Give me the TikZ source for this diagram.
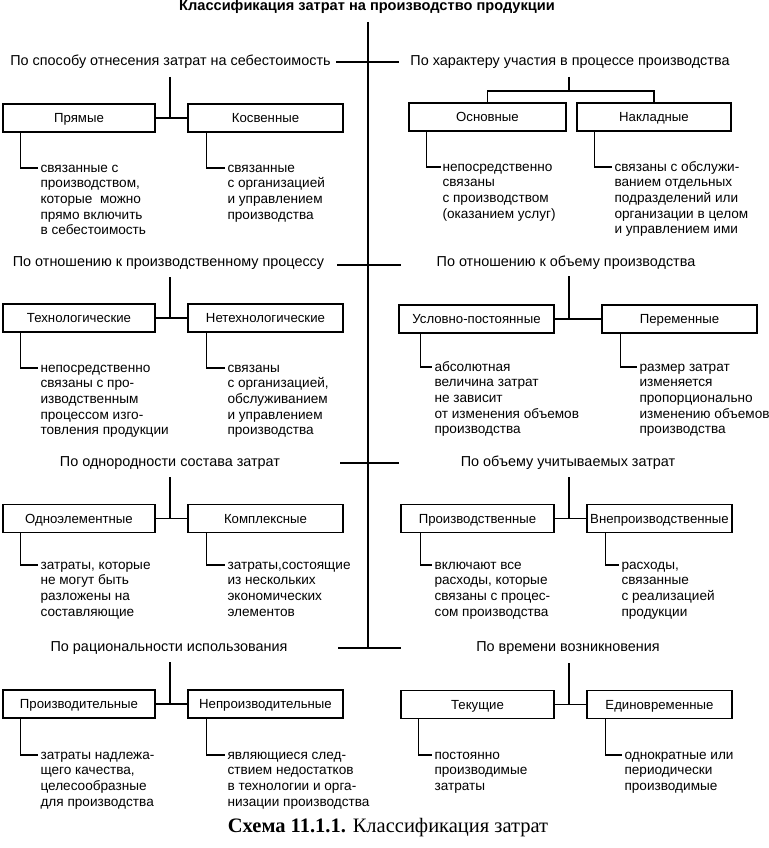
\documentclass[tikz,border=0pt]{standalone}
\usepackage{fontspec}
\setmainfont{Liberation Sans}
\newfontfamily\capfont{Liberation Serif}
\begin{document}
\begin{tikzpicture}[x=1pt,y=-1pt,line width=1.1pt,
  box/.style={draw,line width=1.3pt,minimum height=28pt,inner sep=0pt,text height=9.6pt,text depth=0.6pt,font=\fontsize{13.2}{15.7}\selectfont},
  head/.style={inner sep=0pt,text height=10.4pt,text depth=3pt,font=\fontsize{14.4}{17}\selectfont},
  desc/.style={inner sep=0pt,anchor=north west,align=left,font=\fontsize{13.6}{15.7}\selectfont}]
\useasboundingbox (0,0) rectangle (768,848);
\fill[white] (0,0) rectangle (768,848);
% title and spine
\node[inner sep=0pt,font=\fontsize{14.6}{16}\selectfont\bfseries] (title) at (367,6.5) {Классификация затрат на производство продукции};
\coordinate (ctop) at (368,22);
\coordinate (cbot) at (368,648);
\draw (ctop) -- (cbot);
% ---------------- Section 1 ----------------
\node[head] (h1l) at (170.5,62) {По способу отнесения затрат на себестоимость};
\node[head] (h1r) at (570,62) {По характеру участия в процессе производства};
\coordinate (s1a) at (336,62); \coordinate (s1b) at (399,62);
\draw (s1a) -- (s1b);
\node[box,minimum width=152pt] (l1a) at (79,118) {Прямые};
\node[box,minimum width=155pt] (l1b) at (265.5,118) {Косвенные};
\coordinate (g1l) at (170,77);
\draw (l1a.east) -- (l1b.west);
\draw (g1l) -- (g1l |- l1a.east);
\coordinate (t1la) at (38,168); \coordinate (t1lb) at (225,168);
\draw ([xshift=18pt]l1a.south west) |- (t1la);
\draw ([xshift=19pt]l1b.south west) |- (t1lb);
\node[desc] (d1la) at (40,160.5) {\strut связанные с\\производством,\\которые\ \ можно\\прямо включить\\в себестоимость};
\node[desc] (d1lb) at (227,160.5) {\strut связанные\\с организацией\\и управлением\\производства};
\node[box,minimum width=157pt] (r1a) at (487.5,117) {Основные};
\node[box,minimum width=154pt] (r1b) at (654,117) {Накладные};
\coordinate (g1r) at (569,77); \coordinate (f1r) at (569,91);
\draw (g1r) -- (f1r);
\draw (r1a.north) |- (f1r) -| (r1b.north);
\coordinate (t1ra) at (441,167); \coordinate (t1rb) at (612,167);
\draw ([xshift=18pt]r1a.south west) |- (t1ra);
\draw ([xshift=18pt]r1b.south west) |- (t1rb);
\node[desc] (d1ra) at (442,159.5) {\strut непосредственно\\связаны\\с производством\\(оказанием услуг)};
\node[desc] (d1rb) at (614,159.5) {\strut связаны с обслужи-\\ванием отдельных\\подразделений или\\организации в целом\\и управлением ими};
% ---------------- Section 2 ----------------
\node[head] (h2l) at (168.5,263) {По отношению к производственному процессу};
\node[head] (h2r) at (566,263) {По отношению к объему производства};
\coordinate (s2a) at (337,265); \coordinate (s2b) at (401,265);
\draw (s2a) -- (s2b);
\node[box,minimum width=152pt] (l2a) at (79,318) {Технологические};
\node[box,minimum width=155pt] (l2b) at (265.5,318) {Нетехнологические};
\coordinate (g2l) at (170,277);
\draw (l2a.east) -- (l2b.west);
\draw (g2l) -- (g2l |- l2a.east);
\coordinate (t2la) at (38,368); \coordinate (t2lb) at (225,368);
\draw ([xshift=18pt]l2a.south west) |- (t2la);
\draw ([xshift=19pt]l2b.south west) |- (t2lb);
\node[desc] (d2la) at (40,360.5) {\strut непосредственно\\связаны с про-\\изводственным\\процессом изго-\\товления продукции};
\node[desc] (d2lb) at (227,360.5) {\strut связаны\\с организацией,\\обслуживанием\\и управлением\\производства};
\node[box,minimum width=155pt] (r2a) at (476.5,319) {Условно-постоянные};
\node[box,minimum width=155pt] (r2b) at (679.5,319) {Переменные};
\coordinate (g2r) at (569,276);
\draw (r2a.east) -- (r2b.west);
\draw (g2r) -- (g2r |- r2a.east);
\coordinate (t2ra) at (432,367); \coordinate (t2rb) at (637,367);
\draw ([xshift=22pt]r2a.south west) |- (t2ra);
\draw ([xshift=19pt]r2b.south west) |- (t2rb);
\node[desc] (d2ra) at (434,359.5) {\strut абсолютная\\величина затрат\\не зависит\\от изменения объемов\\производства};
\node[desc] (d2rb) at (639,359.5) {\strut размер затрат\\изменяется\\пропорционально\\изменению объемов\\производства};
% ---------------- Section 3 ----------------
\node[head] (h3l) at (170,463) {По однородности состава затрат};
\node[head] (h3r) at (568,463) {По объему учитываемых затрат};
\coordinate (s3a) at (340,463); \coordinate (s3b) at (399,463);
\draw (s3a) -- (s3b);
\node[box,minimum width=152pt] (l3a) at (79,518.5) {Одноэлементные};
\node[box,minimum width=155pt] (l3b) at (265.5,518.5) {Комплексные};
\coordinate (g3l) at (170,477);
\draw (l3a.east) -- (l3b.west);
\draw (g3l) -- (g3l |- l3a.east);
\coordinate (t3la) at (38,565); \coordinate (t3lb) at (225,565);
\draw ([xshift=18pt]l3a.south west) |- (t3la);
\draw ([xshift=19pt]l3b.south west) |- (t3lb);
\node[desc] (d3la) at (40,557.5) {\strut затраты, которые\\не могут быть\\разложены на\\составляющие};
\node[desc] (d3lb) at (227,557.5) {\strut затраты,состоящие\\из нескольких\\экономических\\элементов};
\node[box,minimum width=153pt] (r3a) at (477.5,518.5) {Производственные};
\node[box,minimum width=145pt] (r3b) at (659.5,518.5) {Внепроизводственные};
\coordinate (g3r) at (569,477);
\draw (r3a.east) -- (r3b.west);
\draw (g3r) -- (g3r |- r3a.east);
\coordinate (t3ra) at (432,565); \coordinate (t3rb) at (619,565);
\draw ([xshift=20pt]r3a.south west) |- (t3ra);
\draw ([xshift=19pt]r3b.south west) |- (t3rb);
\node[desc] (d3ra) at (434,557.5) {\strut включают все\\расходы, которые\\связаны с процес-\\сом производства};
\node[desc] (d3rb) at (621,557.5) {\strut расходы,\\связанные\\с реализацией\\продукции};
% ---------------- Section 4 ----------------
\node[head] (h4l) at (169,648) {По рациональности использования};
\node[head] (h4r) at (568,648) {По времени возникновения};
\coordinate (s4a) at (338,648); \coordinate (s4b) at (401,648);
\draw (s4a) -- (s4b);
\node[box,minimum width=152pt] (l4a) at (79,704) {Производительные};
\node[box,minimum width=155pt] (l4b) at (265.5,704) {Непроизводительные};
\coordinate (g4l) at (170,662);
\draw (l4a.east) -- (l4b.west);
\draw (g4l) -- (g4l |- l4a.east);
\coordinate (t4la) at (38,755); \coordinate (t4lb) at (225,755);
\draw ([xshift=18pt]l4a.south west) |- (t4la);
\draw ([xshift=19pt]l4b.south west) |- (t4lb);
\node[desc] (d4la) at (40,747.5) {\strut затраты надлежа-\\щего качества,\\целесообразные\\для производства};
\node[desc] (d4lb) at (227,747.5) {\strut являющиеся след-\\ствием недостатков\\в технологии и орга-\\низации производства};
\node[box,minimum width=153pt] (r4a) at (477.5,704.5) {Текущие};
\node[box,minimum width=145pt] (r4b) at (659.5,704.5) {Единовременные};
\coordinate (g4r) at (569,663);
\draw (r4a.east) -- (r4b.west);
\draw (g4r) -- (g4r |- r4a.east);
\coordinate (t4ra) at (432,755); \coordinate (t4rb) at (622,755);
\draw ([xshift=18pt]r4a.south west) |- (t4ra);
\draw ([xshift=19pt]r4b.south west) |- (t4rb);
\node[desc] (d4ra) at (434,747.5) {\strut постоянно\\производимые\\затраты};
\node[desc] (d4rb) at (624,747.5) {\strut однократные или\\периодически\\производимые};
% caption
\node[inner sep=0pt,font=\fontsize{20.5}{24}\selectfont\capfont] (cap) at (388,828) {\textbf{Схема 11.1.1.} Классификация затрат};
\end{tikzpicture}
\end{document}
